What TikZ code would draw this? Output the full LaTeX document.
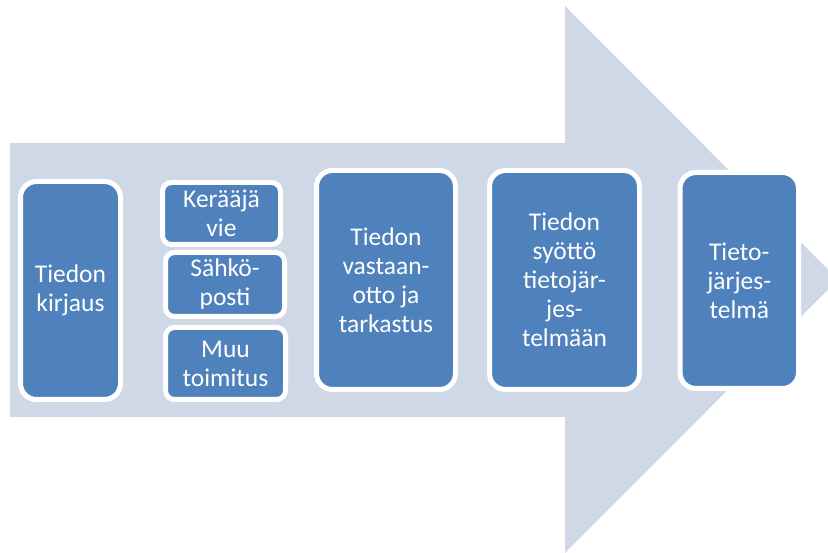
\documentclass[tikz,border=0pt]{standalone}
\usepackage{fontspec}
\setmainfont{Carlito}
\usepackage{xcolor}
\usetikzlibrary{positioning}
\definecolor{stepblue}{HTML}{4F81BD}
\definecolor{arrowgrey}{HTML}{D0D8E8}

\begin{document}
\begin{tikzpicture}[
        x = 1pt, y = -1pt,
        every node/.style = {draw = white, line width = 5pt, fill = stepblue,
            text = white, align = center, inner sep = 0pt,
            font = \fontsize{25.5}{29}\selectfont},
        bigbox/.style = {rounded corners = 16pt},
        smallbox/.style = {rounded corners = 9pt}
        ]
        \useasboundingbox (0,0) rectangle (828,553);
        \clip (0,0) rectangle (828,553);
        % big arrow in the background
        \fill[arrowgrey] (10,143) -- (565,143) -- (565,6) -- (838,279.5)
            -- (565,553) -- (565,417) -- (10,417) -- cycle;
        % process steps
        \node[bigbox, minimum width = 100pt, minimum height = 218pt]
            (kirjaus) at (70.5,290.5) {Tiedon\\kirjaus};
        \node[smallbox, minimum width = 118pt, minimum height = 62pt]
            (keraaja) at (221.5,213.5) {Kerääjä\\vie};
        \node[smallbox, minimum width = 119pt, minimum height = 64pt]
            (posti) at (225,284.5) {Sähkö-\\posti};
        \node[smallbox, minimum width = 120pt, minimum height = 72pt]
            (muu) at (225.5,363.5) {Muu\\toimitus};
        \node[bigbox, minimum width = 139pt, minimum height = 219pt]
            (vastaanotto) at (386,280) {Tiedon\\vastaan-\\otto ja\\tarkastus};
        \node[bigbox, minimum width = 150pt, minimum height = 219pt]
            (syotto) at (564.5,280) {Tiedon\\syöttö\\tietojär-\\jes-\\telmään};
        \node[bigbox, minimum width = 118.5pt, minimum height = 216pt]
            (jarjestelma) at (739.25,280.5) {Tieto-\\järjes-\\telmä};
\end{tikzpicture}
\end{document}
